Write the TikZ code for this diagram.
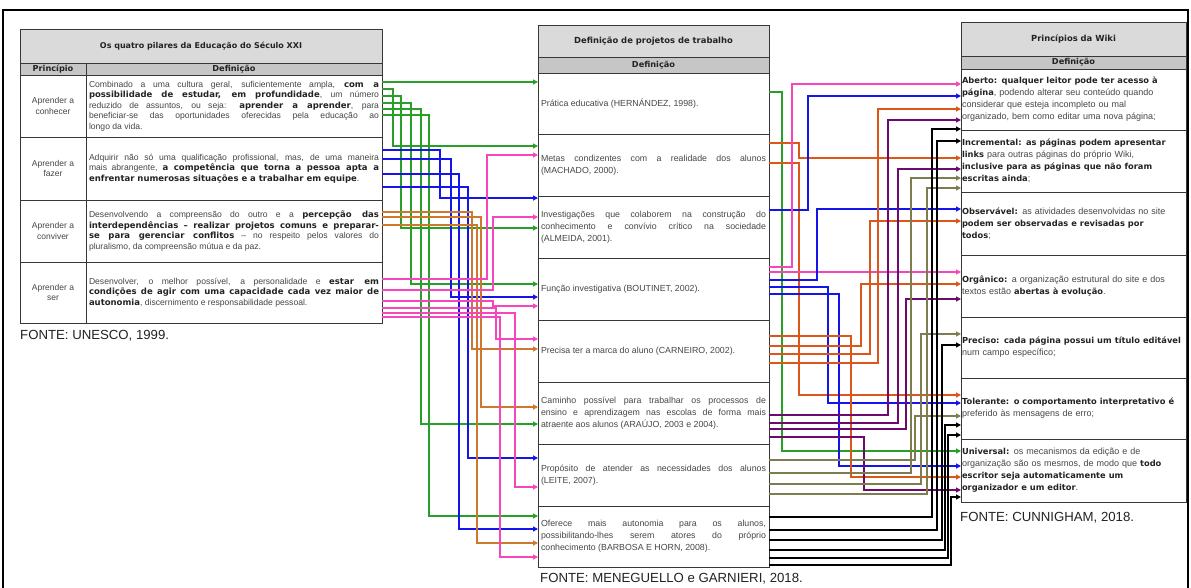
\documentclass[tikz,border=0pt]{standalone}
\usepackage{fontspec}
\setmainfont{Liberation Sans}
\newfontfamily\dvs{DejaVu Sans}
\usetikzlibrary{arrows.meta}
\definecolor{cgreen}{RGB}{40,160,40}
\definecolor{cblue}{RGB}{20,20,235}
\definecolor{corange}{RGB}{205,120,45}
\definecolor{cred}{RGB}{220,85,25}
\definecolor{cpink}{RGB}{245,70,190}
\definecolor{cpurple}{RGB}{110,10,110}
\definecolor{colive}{RGB}{125,125,80}
\definecolor{txt}{RGB}{70,70,70}
\definecolor{btxt}{RGB}{35,35,35}
\definecolor{ttlgray}{RGB}{218,218,218}
\definecolor{hdrgray}{RGB}{198,198,198}
\definecolor{tblline}{RGB}{55,55,55}
\newcommand\B[1]{{\dvs\bfseries\fontsize{8.5}{10}\selectfont\color{btxt}#1}}
\newcommand\Bs[1]{{\dvs\bfseries\fontsize{8.3}{10}\selectfont\color{btxt}#1}}
\newcommand\lk[6]{\draw[conn,#1] (#2.east |- 0,#3) -| (#4,#6) -- (#5.west |- 0,#6);}
\newcommand\lks[4]{\draw[conn,#1] (#2.east |- 0,#3) -- (#4.west |- 0,#3);}
\begin{document}
\hyphenpenalty=10000
\exhyphenpenalty=10000
\begin{tikzpicture}[x=1pt,y=-1pt,
  cell/.style={draw=tblline, line width=0.8pt, anchor=north west, inner xsep=3pt, inner ysep=0pt, outer sep=0pt, text=txt},
  ttl/.style={cell, fill=ttlgray, font=\dvs\bfseries\fontsize{8.4}{10}\selectfont, text=btxt, align=center},
  hdr/.style={cell, fill=hdrgray, font=\dvs\bfseries\fontsize{8.2}{10}\selectfont, text=btxt, align=center},
  ltxt/.style={cell, font=\fontsize{8.6}{10.5}\selectfont, align=justify, minimum width=296pt, text width=290pt},
  ptxt/.style={cell, font=\fontsize{8.5}{10.5}\selectfont, align=center, minimum width=66pt},
  mtxt/.style={cell, font=\fontsize{8.8}{12}\selectfont, align=justify, minimum width=231pt, text width=225pt},
  rtxt/.style={cell, inner xsep=1pt, font=\fontsize{9}{12}\selectfont, align=left, minimum width=225pt, text width=223pt},
  conn/.style={line width=1.1pt, -{Triangle[length=5pt,width=5pt]}},
  src/.style={font=\fontsize{13.2}{15}\selectfont, text=btxt, anchor=west, inner sep=0pt}
]
\useasboundingbox (0,0) rectangle (1191,587);
\fill[white] (0,0) rectangle (1191,587);
\draw[line width=2pt] (3,10) rectangle (1188,600);

% ---------- left table
\node[ttl, minimum width=362pt, minimum height=34pt, font=\dvs\bfseries\fontsize{8}{10}\selectfont] (lt) at (20,29) {Os quatro pilares da Educação do Século XXI};
\node[hdr, minimum width=66pt, minimum height=12pt] (lh1) at (20,63) {Princípio};
\node[hdr, minimum width=296pt, minimum height=12pt] (lh2) at (86,63) {Definição};
\node[ptxt, minimum height=62pt] (lp1) at (20,75) {Aprender a\\conhecer};
\node[ptxt, minimum height=63pt] (lp2) at (20,137) {Aprender a\\fazer};
\node[ptxt, minimum height=62pt] (lp3) at (20,200) {Aprender a\\conviver};
\node[ptxt, minimum height=61pt] (lp4) at (20,262) {Aprender a\\ser};
\node[ltxt, minimum height=62pt] (ld1) at (86,75) {Combinado a uma cultura geral, suficientemente ampla, \B{com a}\linebreak \B{possibilidade de estudar, em profundidade}, um número\linebreak reduzido de assuntos, ou seja: \B{aprender a aprender}, para\linebreak beneficiar-se das oportunidades oferecidas pela educação ao\linebreak longo da vida.};
\node[ltxt, minimum height=63pt] (ld2) at (86,137) {Adquirir não só uma qualificação profissional, mas, de uma maneira\linebreak mais abrangente, \B{a competência que torna a pessoa apta a}\linebreak \B{enfrentar numerosas situações e a trabalhar em equipe}.};
\node[ltxt, minimum height=62pt] (ld3) at (86,200) {Desenvolvendo a compreensão do outro e a \B{percepção das}\linebreak \B{interdependências – realizar projetos comuns e preparar-}\linebreak \B{se para gerenciar conflitos} – no respeito pelos valores do\linebreak pluralismo, da compreensão mútua e da paz.};
\node[ltxt, minimum height=61pt] (ld4) at (86,262) {Desenvolver, o melhor possível, a personalidade e \B{estar em}\linebreak \B{condições de agir com uma capacidade cada vez maior de}\linebreak \B{autonomia}, discernimento e responsabilidade pessoal.};
\node[src] (f1) at (20,336) {FONTE: UNESCO, 1999.};

% ---------- middle table
\node[ttl, minimum width=231pt, minimum height=32pt] (mt) at (538,25) {Definição de projetos de trabalho};
\node[hdr, minimum width=231pt, minimum height=16pt] (mh) at (538,57) {Definição};
\node[mtxt, minimum height=61pt] (m1) at (538,73) {Prática educativa (HERNÁNDEZ, 1998).};
\node[mtxt, minimum height=62pt] (m2) at (538,134) {Metas condizentes com a realidade dos alunos\linebreak (MACHADO, 2000).};
\node[mtxt, minimum height=62pt] (m3) at (538,196) {Investigações que colaborem na construção do\linebreak conhecimento e convívio crítico na sociedade\linebreak (ALMEIDA, 2001).};
\node[mtxt, minimum height=62pt] (m4) at (538,258) {Função investigativa (BOUTINET, 2002).};
\node[mtxt, minimum height=62pt] (m5) at (538,320) {Precisa ter a marca do aluno (CARNEIRO, 2002).};
\node[mtxt, minimum height=62pt] (m6) at (538,382) {Caminho possível para trabalhar os processos de\linebreak ensino e aprendizagem nas escolas de forma mais\linebreak atraente aos alunos (ARAÚJO, 2003 e 2004).};
\node[mtxt, minimum height=62pt] (m7) at (538,444) {Propósito de atender as necessidades dos alunos\linebreak (LEITE, 2007).};
\node[mtxt, minimum height=61pt] (m8) at (538,506) {Oferece mais autonomia para os alunos,\linebreak possibilitando-lhes serem atores do próprio\linebreak conhecimento (BARBOSA E HORN, 2008).};
\node[src] (f2) at (540,579) {FONTE: MENEGUELLO e GARNIERI, 2018.};

% ---------- right table
\node[ttl, minimum width=225pt, minimum height=34pt] (rt) at (961,22) {Princípios da Wiki};
\node[hdr, minimum width=225pt, minimum height=13pt] (rh) at (961,56) {Definição};
\node[rtxt, minimum height=61pt] (r1) at (961,69) {\Bs{Aberto: qualquer leitor pode ter acesso à}\\\Bs{página}, podendo alterar seu conteúdo quando\\considerar que esteja incompleto ou mal\\organizado, bem como editar uma nova página;};
\node[rtxt, minimum height=62pt] (r2) at (961,130) {\Bs{Incremental: as páginas podem apresentar}\\\Bs{links} para outras páginas do próprio Wiki,\\\Bs{inclusive para as páginas que não foram}\\\Bs{escritas ainda};};
\node[rtxt, minimum height=63pt] (r3) at (961,192) {\Bs{Observável:} as atividades desenvolvidas no site\\\Bs{podem ser observadas e revisadas por}\\\Bs{todos};};
\node[rtxt, minimum height=62pt] (r4) at (961,255) {\Bs{Orgânico:} a organização estrutural do site e dos\\textos estão \Bs{abertas à evolução}.};
\node[rtxt, minimum height=61pt] (r5) at (961,317) {\Bs{Preciso: cada página possui um título editável}\\num campo específico;};
\node[rtxt, minimum height=61pt] (r6) at (961,378) {\Bs{Tolerante: o comportamento interpretativo é}\\preferido às mensagens de erro;};
\node[rtxt, minimum height=63pt] (r7) at (961,439) {\Bs{Universal:} os mecanismos da edição e de\\organização são os mesmos, de modo que \Bs{todo}\\\Bs{escritor seja automaticamente um}\\\Bs{organizador e um editor}.};
\node[src] (f3) at (960,518) {FONTE: CUNNIGHAM, 2018.};

% ---------- connectors left -> middle
\lks{cgreen}{ld1}{82}{m1}
\lk{cgreen}{ld1}{89}{393}{m2}{146}
\lk{cgreen}{ld1}{96}{401}{m3}{228}
\lk{cgreen}{ld1}{103}{411}{m4}{284}
\lk{cgreen}{ld1}{109}{421}{m6}{424}
\lk{cgreen}{ld1}{115}{429}{m8}{516}
\lk{cblue}{ld2}{150}{440}{m3}{198}
\lk{cblue}{ld2}{159}{451}{m4}{297}
\lk{cblue}{ld2}{174}{459}{m8}{529}
\lk{cblue}{ld2}{187}{468}{m7}{458}
\lk{corange}{ld3}{212}{472}{m5}{349}
\lk{corange}{ld3}{217}{481}{m6}{407}
\lk{corange}{ld3}{225}{477}{m8}{543}
\lk{cpink}{ld4}{279}{487}{m2}{155}
\lk{cpink}{ld4}{290}{493}{m3}{217}
\lk{cpink}{ld4}{301}{493}{m4}{306}
\lk{cpink}{ld4}{308}{496}{m5}{339}
\lk{cpink}{ld4}{313}{515}{m7}{487}
\lk{cpink}{ld4}{317}{500}{m8}{557}

% ---------- connectors middle -> right
\lk{cgreen}{m1}{92}{782}{r7}{451}
\lk{cred}{m2}{143}{799}{r2}{158}
\lk{cred}{m2}{163}{799}{r6}{395}
\lk{cblue}{m3}{210}{808}{r1}{96}
\lk{cpink}{m4}{267}{792}{r1}{84}
\lks{cpink}{m4}{272}{r4}
\lk{cblue}{m4}{280}{817}{r3}{209}
\lk{cblue}{m4}{287}{828}{r6}{403}
\lk{cblue}{m4}{294}{839}{r7}{466}
\lk{cred}{m5}{336}{851}{r7}{477}
\lk{cred}{m5}{346}{861}{r4}{284}
\lk{cred}{m5}{354}{870}{r3}{221}
\lk{cred}{m5}{363}{878}{r1}{109}
\lk{cpurple}{m6}{415}{888}{r1}{120}
\lk{cpurple}{m6}{423}{898}{r2}{169}
\lk{cpurple}{m6}{429}{906}{r4}{299}
\lk{cpurple}{m6}{437}{864}{r7}{490}
\lk{colive}{m7}{460}{915}{r6}{416}
\lk{colive}{m7}{473}{911}{r2}{178}
\lk{colive}{m7}{484}{921}{r5}{334}
\lk{colive}{m7}{494}{927}{r2}{188}
\lk{black}{m8}{517}{932}{r1}{129}
\lk{black}{m8}{530}{937}{r2}{141}
\lk{black}{m8}{540}{942}{r5}{345}
\lk{black}{m8}{550}{945}{r6}{425}
\lk{black}{m8}{558}{948}{r6}{435}
\lk{black}{m8}{565}{951}{r7}{497}
\end{tikzpicture}
\end{document}
